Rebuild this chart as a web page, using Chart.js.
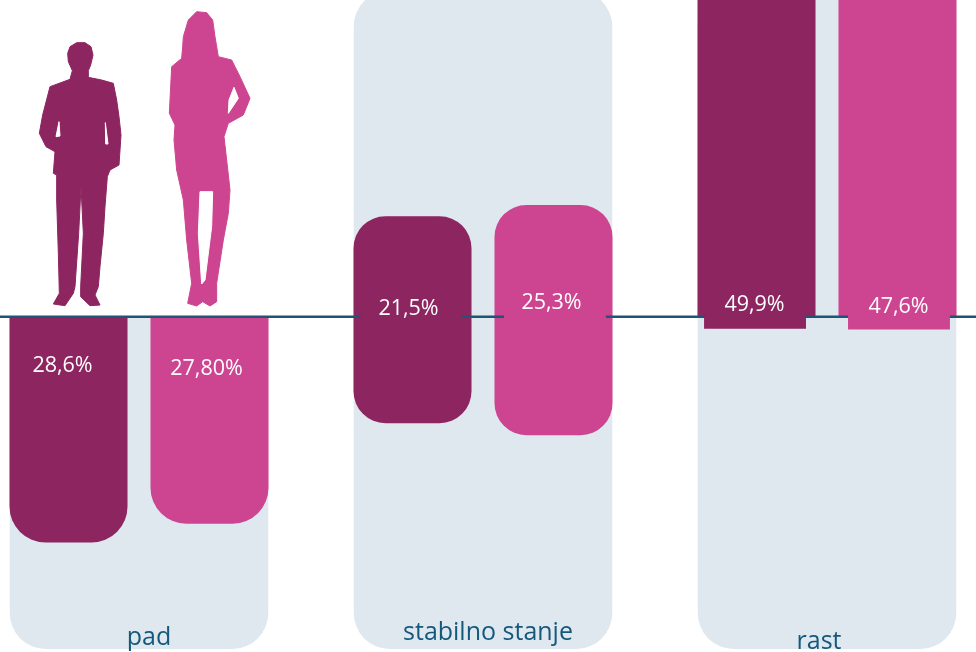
<!DOCTYPE html>
<html>
<head>
<meta charset="utf-8">
<style>
  html, body { margin: 0; padding: 0; background: #fff; overflow: hidden; }
  #wrap { position: relative; width: 976px; height: 652px; overflow: hidden; }
  /* the three groups are 344px apart, so the plot runs a bit past both page edges */
  #myChart { position: absolute; left: -33px; top: 0; }
</style>
<script src="https://cdn.jsdelivr.net/npm/chart.js@4"></script>
</head>
<body>
<div id="wrap"><canvas id="myChart"></canvas></div>
<script>
const categories = ['pad', 'stabilno stanje', 'rast'];

// values printed on the bars
const menValues = ['28,6%', '21,5%', '49,9%'];
const womenValues = ['27,80%', '25,3%', '47,6%'];

// the source graphic is not to scale, so bar extents are read off separately (y axis unit = 1 %)
const menBars = [[-30.1, 0], [-14.2, 13.4], [0, 49.9]];
const womenBars = [[-27.6, 0], [-15.8, 14.9], [0, 47.6]];
const panels = [[-44.3, 0], [-44.3, 43.5], [-44.3, 43.5]];
const menBoxes = [null, [-4, 4], [-1.6, 4]];
const womenBoxes = [null, [-4, 4], [-1.7, 4]];

const darkColor = '#8c2560';
const pinkColor = '#cd4590';
const panelColor = '#dfe7ef';
const lineColor = '#1f5474';
const textColor = '#14597c';

// silhouettes, traced at 3x
const manShape = [[143,160],[150,140],[170,128],[195,128],[213,140],[219,165],[212,195],[205,212],[205,232],[245,240],[280,250],[290,300],[297,350],[303,405],[297,495],[270,510],[262,530],[255,620],[250,700],[240,800],[235,860],[225,885],[240,915],[210,917],[182,890],[182,860],[190,700],[183,560],[176,700],[165,860],[160,880],[135,917],[100,912],[118,880],[115,760],[110,600],[110,525],[100,520],[105,455],[78,440],[58,400],[68,345],[90,260],[150,238],[157,212],[145,185]];
const manGaps = [[[117,365],[120,408],[108,410]], [[256,368],[264,432],[257,432]]];
const womanShape = [[490,110],[505,60],[530,35],[560,38],[578,60],[585,110],[595,170],[635,180],[660,230],[690,295],[670,345],[625,370],[612,410],[620,480],[630,570],[625,640],[610,720],[590,850],[590,905],[570,918],[548,905],[530,918],[503,910],[515,850],[500,720],[490,600],[470,510],[462,420],[465,375],[448,340],[455,200],[485,175],[488,140]];
const womanGaps = [[[540,575],[578,575],[575,680],[555,840],[545,852],[535,700]], [[642,262],[655,295],[625,340],[627,300]]];

function tracePath(ctx, pts) {
  ctx.beginPath();
  pts.forEach(function(p, i) { i ? ctx.lineTo(p[0], p[1]) : ctx.moveTo(p[0], p[1]); });
  ctx.closePath();
  ctx.fill();
  ctx.stroke();
}

function tracePeople(ctx, shape, gaps, color) {
  ctx.save();
  ctx.translate(53, 0);
  ctx.scale(1 / 3, 1 / 3);
  ctx.lineJoin = 'round';
  ctx.lineWidth = 3;
  ctx.fillStyle = color;
  ctx.strokeStyle = color;
  tracePath(ctx, shape);
  ctx.fillStyle = '#fff';
  ctx.strokeStyle = '#fff';
  gaps.forEach(function(gap) { tracePath(ctx, gap); });
  ctx.restore();
}

// zero line goes over the bars but under the label boxes
const zeroLine = {
  id: 'zeroLine',
  beforeDatasetDraw(chart, args) {
    if (args.index !== 4) return;
    const ctx = chart.ctx;
    const y = chart.scales.y.getPixelForValue(0);
    ctx.save();
    ctx.strokeStyle = lineColor;
    ctx.lineWidth = 2.5;
    ctx.beginPath();
    ctx.moveTo(0, y);
    ctx.lineTo(chart.width, y);
    ctx.stroke();
    ctx.restore();
  }
};

const textLabels = {
  id: 'textLabels',
  afterDraw(chart) {
    const ctx = chart.ctx;
    const y = chart.scales.y;
    const menMeta = chart.getDatasetMeta(1);
    const womenMeta = chart.getDatasetMeta(2);
    const menY = [-6.6, 1.1, 1.6];
    const womenY = [-6.9, 1.9, 1.3];
    const menDx = [-6, -4, -2];
    const womenDx = [-3, -2, 1];
    ctx.save();
    ctx.textAlign = 'center';
    ctx.textBaseline = 'middle';
    ctx.fillStyle = '#fff';
    ctx.font = '21.5px "Open Sans"';
    categories.forEach(function(c, i) {
      ctx.fillText(menValues[i], menMeta.data[i].x + menDx[i], y.getPixelForValue(menY[i]));
      ctx.fillText(womenValues[i], womenMeta.data[i].x + womenDx[i], y.getPixelForValue(womenY[i]));
    });
    ctx.fillStyle = textColor;
    ctx.font = '25px "Open Sans"';
    const nameY = [638, 633, 642];
    const nameX = [10, 5, -8];
    categories.forEach(function(c, i) {
      ctx.fillText(c, chart.scales.x.getPixelForValue(i) + nameX[i], nameY[i]);
    });
    tracePeople(ctx, manShape, manGaps, darkColor);
    tracePeople(ctx, womanShape, womanGaps, pinkColor);
    ctx.restore();
  }
};

const options = {
  responsive: false,
  animation: false,
  plugins: { legend: { display: false }, tooltip: { enabled: false } },
  scales: {
    x: { display: false },
    y: { display: false, stacked: false, min: -44.7, max: 42.23 }
  }
};

function panelRadius(ctx) {
  return ctx.dataIndex === 0
    ? { topLeft: 0, topRight: 0, bottomLeft: 36, bottomRight: 36 }
    : 36;
}

function barRadius(ctx) {
  if (ctx.dataIndex === 0) return { topLeft: 0, topRight: 0, bottomLeft: 36, bottomRight: 36 };
  if (ctx.dataIndex === 2) return 0;
  return { topLeft: 32, topRight: 32, bottomLeft: 32, bottomRight: 32 };
}

const canvas = document.getElementById('myChart');
canvas.width = 1032;
canvas.height = 652;
const myChart = new Chart(canvas.getContext('2d'), {
  type: 'bar',
  plugins: [zeroLine, textLabels],
  data: {
    labels: categories,
    datasets: [
      { label: 'panel', data: panels, order: 3, stack: 'm', grouped: false, backgroundColor: panelColor, categoryPercentage: 0.7515, barPercentage: 1, borderSkipped: false, borderRadius: panelRadius },
      { label: 'muškarci', data: menBars, order: 2, stack: 'm', backgroundColor: darkColor, categoryPercentage: 0.8198, barPercentage: 0.837, borderSkipped: false, borderRadius: barRadius },
      { label: 'žene', data: womenBars, order: 2, stack: 'w', backgroundColor: pinkColor, categoryPercentage: 0.8198, barPercentage: 0.837, borderSkipped: false, borderRadius: barRadius },
      { label: 'muškarci okvir', data: menBoxes, order: 1, stack: 'm', backgroundColor: darkColor, categoryPercentage: 0.837, barPercentage: 0.708, borderSkipped: false },
      { label: 'žene okvir', data: womenBoxes, order: 1, stack: 'w', backgroundColor: pinkColor, categoryPercentage: 0.837, barPercentage: 0.708, borderSkipped: false }
    ]
  },
  options: options
});
</script>
</body>
</html>
